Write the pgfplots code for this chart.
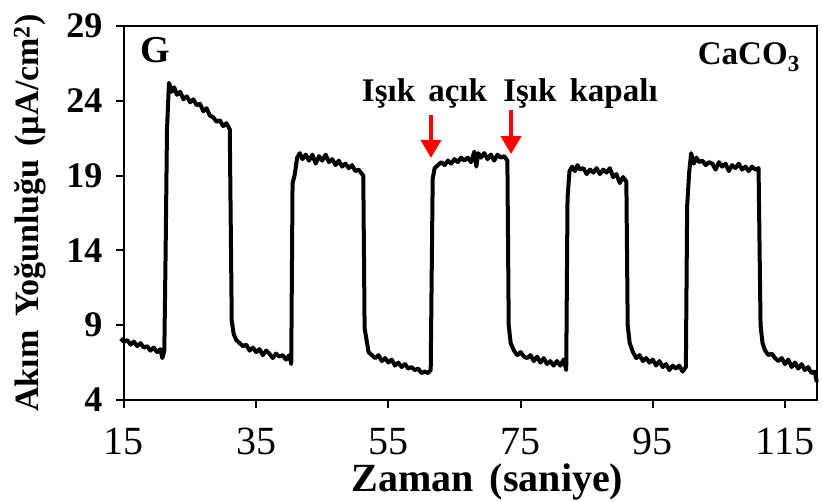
\documentclass[border=0pt]{standalone}
\usepackage{pgfplots}
\pgfplotsset{compat=1.18}
\usepackage{fontspec}
\setmainfont{Liberation Serif}
\usetikzlibrary{arrows.meta}

\pgfplotstableread{
t j
14.5 8.1
15 7.9
15.5 8.0
16 7.7
16.5 7.9
17 7.6
17.5 7.8
18 7.5
18.5 7.6
19 7.3
19.5 7.5
20 7.2
20.5 7.4
20.8 6.8
21.1 7.3
21.3 14.0
21.5 22.0
21.8 25.2
22.2 24.6
22.6 24.9
23 24.4
23.5 24.6
24 24.1
24.5 24.3
25 23.9
25.5 24.1
26 23.7
26.5 23.8
27 23.3
27.5 23.5
28 23.0
28.5 22.9
29 22.6
29.5 22.7
30 22.3
30.5 22.5
31 22.1
31.3 9.3
31.6 8.4
32 8.0
32.5 7.8
33 7.6
33.5 7.7
34 7.3
34.5 7.5
35 7.2
35.5 7.4
36 7.0
36.5 7.3
37 7.1
37.5 6.8
38 7.1
38.5 6.9
39 7.0
39.5 6.7
40 7.0
40.3 6.4
40.5 18.5
40.8 19.0
41.2 20.2
41.6 20.5
42 20.1
42.5 20.4
43 20.0
43.5 20.4
44 19.8
44.5 20.3
45 20.0
45.5 20.4
46 19.9
46.5 20.1
47 19.7
47.5 20.0
48 19.6
48.5 19.8
49 19.5
49.5 19.7
50 19.3
50.5 19.4
51 19.1
51.2 19.0
51.4 8.8
51.7 8.0
52 7.2
52.5 7.0
53 6.8
53.5 7.0
54 6.6
54.5 6.8
55 6.5
55.5 6.7
56 6.3
56.5 6.5
57 6.2
57.5 6.4
58 6.1
58.5 6.2
59 6.0
59.5 6.1
60 5.8
60.5 5.9
61 5.8
61.4 6.0
61.7 18.8
62 19.5
62.5 19.7
63 19.9
63.5 19.7
64 20.0
64.5 19.8
65 20.1
65.5 19.9
66 20.2
66.5 20.0
67 20.2
67.5 19.9
68 20.6
68.3 19.6
68.6 20.5
69 20.2
69.5 20.5
70 20.1
70.5 20.4
71 20.0
71.5 20.4
72 20.2
72.5 20.3
73 20.0
73.2 9.0
73.5 7.8
74 7.3
74.5 7.0
75 7.2
75.5 6.9
76 6.8
76.5 7.0
77 6.6
77.5 6.9
78 6.5
78.5 6.8
79 6.4
79.5 6.6
80 6.3
80.5 6.6
81 6.3
81.5 6.7
81.9 6.0
82.1 17.5
82.4 19.3
82.8 19.6
83.2 19.3
83.6 19.7
84 19.4
84.5 19.5
85 19.1
85.5 19.4
86 19.2
86.5 19.5
87 19.1
87.5 19.4
88 19.2
88.5 19.5
89 18.9
89.5 19.1
90 18.5
90.5 18.9
91 18.6
91.2 9.0
91.5 7.8
92 7.2
92.5 6.8
93 7.0
93.5 6.6
94 6.8
94.5 6.5
95 6.7
95.5 6.3
96 6.6
96.5 6.2
97 6.4
97.5 6.0
98 6.3
98.5 6.1
99 6.3
99.5 5.9
100 6.2
100.2 17.0
100.5 19.2
100.8 20.5
101.2 19.8
101.6 20.2
102 19.9
102.5 20.0
103 19.7
103.5 19.9
104 19.8
104.5 19.4
105 19.9
105.5 19.6
106 19.8
106.5 19.3
107 19.7
107.5 19.5
108 19.8
108.5 19.4
109 19.6
109.5 19.3
110 19.6
110.5 19.4
111 19.5
111.3 9.0
111.6 7.8
112 7.3
112.5 7.0
113 7.1
113.5 6.8
114 6.6
114.5 6.8
115 6.4
115.5 6.7
116 6.2
116.5 6.5
117 6.1
117.5 6.4
118 6.0
118.5 6.2
119 5.8
119.5 5.9
119.8 5.2
}\photocurrent

\begin{document}
\begin{tikzpicture}
\begin{axis}[
  scale only axis,
  width=693pt, height=374pt,
  xmin=15, xmax=119.84,
  ymin=4, ymax=29,
  xtick={15,35,55,75,95,115},
  ytick={4,9,14,19,24,29},
  axis line style={line width=2.5pt},
  tick align=outside,
  xtick pos=bottom, ytick pos=left,
  major tick length=8pt,
  every tick/.style={black, line width=2pt},
  /pgf/number format/assume math mode=true,
  xticklabel style={font=\fontsize{40}{44}\selectfont, anchor=base, yshift=-47pt},
  yticklabel style={font=\fontsize{36}{40}\selectfont\bfseries, anchor=east, xshift=-10pt},
  xlabel={Zaman\hspace{0.4em}(saniye)},
  ylabel={Akım\hspace{0.4em}Yoğunluğu\hspace{0.4em}(µA/cm\textsuperscript{2})},
  xlabel style={font=\fontsize{40}{44}\selectfont\bfseries,
    at={(axis description cs:0.5245,-0.246)}, anchor=base},
  ylabel style={font=\fontsize{34}{38}\selectfont\bfseries,
    at={(axis description cs:-0.1356,0.5)}, anchor=center},
  clip=false,
]
\addplot[black, line width=4pt, line join=round] table[x=t, y=j] {\photocurrent};

% light on / light off markers
\draw[red, line width=4pt, -{Triangle[length=18pt,width=20pt]}] (axis cs:61.44,23.05) -- (axis cs:61.44,20.18);
\draw[red, line width=4pt, -{Triangle[length=18pt,width=20pt]}] (axis cs:73.55,23.38) -- (axis cs:73.55,20.44);
\end{axis}

\node[font=\fontsize{38}{42}\selectfont\bfseries, anchor=base west, inner sep=0pt] at (16pt,337pt) {G};
\node[font=\fontsize{33}{38}\selectfont\bfseries, anchor=base east, inner sep=0pt] at (676pt,335pt) {CaCO\textsubscript{3}};
\node[font=\fontsize{33}{38}\selectfont\bfseries, anchor=base, inner sep=0pt] at (300.5pt,298pt) {Işık\hspace{0.4em}açık};
\node[font=\fontsize{33}{38}\selectfont\bfseries, anchor=base, inner sep=0pt] at (456.5pt,298pt) {Işık\hspace{0.4em}kapalı};

\pgfresetboundingbox
\path[use as bounding box] (-124pt,-102pt) rectangle (699pt,400pt);
\end{tikzpicture}
\end{document}
